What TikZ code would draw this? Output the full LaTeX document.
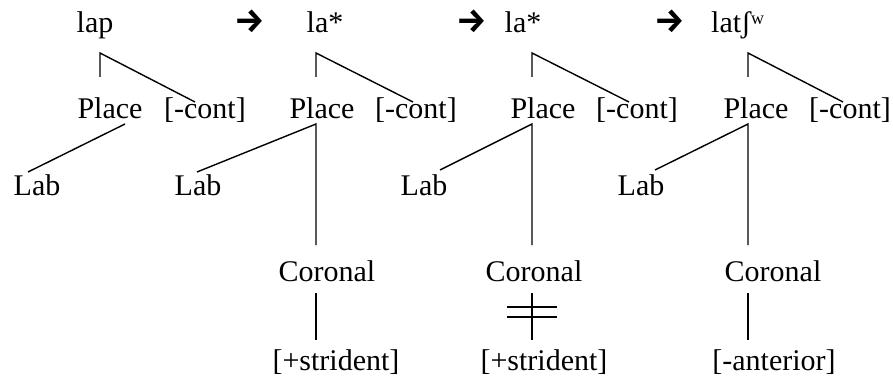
\documentclass[tikz,border=0pt]{standalone}
\usepackage{fontspec}
\setmainfont{Liberation Serif}
\newfontfamily\arrowfont{Fira Sans}
\tikzset{
  feat/.style={inner sep=0pt, anchor=base, font=\fontsize{30}{36}\selectfont},
  turnto/.style={inner sep=0pt, anchor=base, font=\fontsize{34}{40}\selectfont\arrowfont\bfseries},
  branch/.style={line width=1.4pt}
}
\begin{document}
\begin{tikzpicture}[x=1pt, y=-1pt]
	\useasboundingbox (0,0) rectangle (893,377);
	% lap
	\node[feat] (seg1) at (95,33) {lap};
	\node[feat] (place1) at (110,118) {Place};
	\node[feat] (cont1) at (205,118) {[-cont]};
	\node[feat] (lab1) at (37,195) {Lab};
	\coordinate (top1) at (100,53);
	\coordinate (stem1) at (100,77);
	\coordinate (tip1) at (195,102);
	\coordinate (root1) at (125,124);
	\coordinate (end1) at (28,172);
	\draw[branch] (stem1) -- (top1) -- (tip1);
	\draw[branch] (root1) -- (end1);
	\node[turnto] (arr1) at (250,33) {→};
	% la* (first)
	\node[feat] (seg2) at (325,33) {la*};
	\node[feat] (place2) at (322,118) {Place};
	\node[feat] (cont2) at (416,118) {[-cont]};
	\node[feat] (lab2) at (198,195) {Lab};
	\node[feat] (cor2) at (327,281) {Coronal};
	\node[feat] (strid2) at (336,370) {[+strident]};
	\coordinate (top2) at (316,53);
	\coordinate (stem2) at (316,77);
	\coordinate (tip2) at (413,102);
	\coordinate (root2) at (316,124);
	\coordinate (end2) at (197,172);
	\coordinate (foot2) at (316,245);
	\coordinate (cup2) at (316,293);
	\coordinate (cdown2) at (316,340);
	\draw[branch] (stem2) -- (top2) -- (tip2);
	\draw[branch] (end2) -- (root2) -- (foot2);
	\draw[branch] (cup2) -- (cdown2);
	\node[turnto] (arr2) at (472,33) {→};
	% la* (second), delinked
	\node[feat] (seg3) at (523,33) {la*};
	\node[feat] (place3) at (543,118) {Place};
	\node[feat] (cont3) at (637,118) {[-cont]};
	\node[feat] (lab3) at (424,195) {Lab};
	\node[feat] (cor3) at (534,281) {Coronal};
	\node[feat] (strid3) at (544,370) {[+strident]};
	\coordinate (top3) at (532,53);
	\coordinate (stem3) at (532,77);
	\coordinate (tip3) at (629,102);
	\coordinate (root3) at (532,124);
	\coordinate (end3) at (440,170);
	\coordinate (foot3) at (532,245);
	\coordinate (cup3) at (532,293);
	\coordinate (cdown3) at (532,340);
	\coordinate (barA) at (507,307);
	\coordinate (barB) at (507,317);
	\draw[branch] (stem3) -- (top3) -- (tip3);
	\draw[branch] (end3) -- (root3) -- (foot3);
	\draw[branch] (cup3) -- (cdown3);
	\draw[branch] (barA) -- ++(50,0);
	\draw[branch] (barB) -- ++(50,0);
	\node[turnto] (arr3) at (670,33) {→};
	% latsh
	\node[feat, anchor=base west] (seg4) at (711,33) {latʃʷ};
	\node[feat] (place4) at (756,118) {Place};
	\node[feat] (cont4) at (850,118) {[-cont]};
	\node[feat] (lab4) at (641,195) {Lab};
	\node[feat] (cor4) at (773,281) {Coronal};
	\node[feat] (ant4) at (774,370) {[-anterior]};
	\coordinate (top4) at (748,53);
	\coordinate (stem4) at (748,77);
	\coordinate (tip4) at (843,102);
	\coordinate (root4) at (748,124);
	\coordinate (end4) at (655,170);
	\coordinate (foot4) at (748,245);
	\coordinate (cup4) at (748,293);
	\coordinate (cdown4) at (748,340);
	\draw[branch] (stem4) -- (top4) -- (tip4);
	\draw[branch] (end4) -- (root4) -- (foot4);
	\draw[branch] (cup4) -- (cdown4);
\end{tikzpicture}
\end{document}
